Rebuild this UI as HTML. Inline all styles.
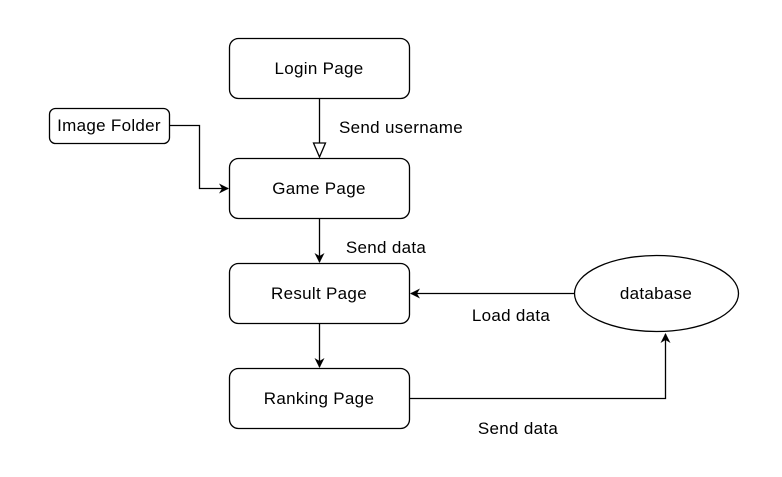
<!DOCTYPE html>
<html><head><meta charset="utf-8"><style>
html,body{margin:0;padding:0;background:#fff;}
svg{display:block;}
text{font-family:"Liberation Sans",Arial,sans-serif;font-size:17px;letter-spacing:0.3px;fill:#000;}
</style></head><body>
<svg width="782" height="477" viewBox="0 0 782 477" xmlns="http://www.w3.org/2000/svg">
<defs>
<marker id="a" markerWidth="10" markerHeight="10" refX="9" refY="5" orient="auto" markerUnits="userSpaceOnUse">
<path d="M0,0 L10,5 L0,10 L3,5 Z" fill="#000"/>
</marker>
<marker id="h" markerWidth="16" markerHeight="14" refX="15" refY="7" orient="auto" markerUnits="userSpaceOnUse">
<path d="M1,1 L15,7 L1,13 Z" fill="#fff" stroke="#000" stroke-width="1.3"/>
</marker>
</defs>
<g fill="#fff" stroke="#000" stroke-width="1.3">
<rect x="229.5" y="38.5" width="180" height="60" rx="9"/>
<rect x="229.5" y="158.5" width="180" height="60" rx="9"/>
<rect x="229.5" y="263.5" width="180" height="60" rx="9"/>
<rect x="229.5" y="368.5" width="180" height="60" rx="9"/>
<rect x="49.5" y="108.5" width="120" height="35" rx="6"/>
<ellipse cx="656.5" cy="293.5" rx="82" ry="38"/>
</g>
<g fill="none" stroke="#000" stroke-width="1.3">
<path d="M319.5,98.5 V157" marker-end="url(#h)"/>
<path d="M169.5,125.5 H199.5 V188.5 H228" marker-end="url(#a)"/>
<path d="M319.5,218.5 V262" marker-end="url(#a)"/>
<path d="M319.5,323.5 V367" marker-end="url(#a)"/>
<path d="M574.5,293.5 H411" marker-end="url(#a)"/>
<path d="M409.5,398.5 H665.5 V334" marker-end="url(#a)"/>
</g>
<g text-anchor="middle">
<text x="319" y="74">Login Page</text>
<text x="319" y="194">Game Page</text>
<text x="319" y="299">Result Page</text>
<text x="319" y="404">Ranking Page</text>
<text x="109" y="131">Image Folder</text>
<text x="656" y="299">database</text>
<text x="401" y="133">Send username</text>
<text x="386" y="253">Send data</text>
<text x="511" y="321">Load data</text>
<text x="518" y="434">Send data</text>
</g>
</svg>
</body></html>
